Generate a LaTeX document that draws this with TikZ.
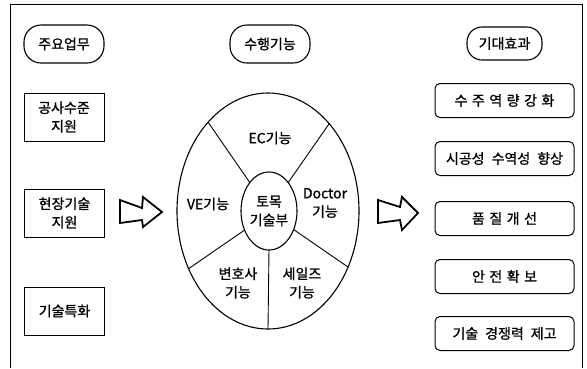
\documentclass[tikz,border=0pt]{standalone}
\usepackage{fontspec}
\setmainfont{Noto Sans CJK KR}[AutoFakeBold=1.0]
\usetikzlibrary{shapes.geometric}
\newcommand{\gp}{\hspace{4.5pt}}
\newcommand{\wgp}{\hspace{7pt}}
\begin{document}
\begin{tikzpicture}[x=1pt,y=-1pt,
  font=\fontsize{14}{18.5}\selectfont\bfseries,
  sqbox/.style={draw, line width=0.9pt, minimum width=80pt, minimum height=48pt, align=center, inner sep=0pt, outer sep=0pt},
  pill/.style={draw, line width=1.1pt, rounded corners=17pt, minimum width=80pt, minimum height=38pt, inner sep=0pt, outer sep=0pt},
  rbox/.style={draw, line width=1pt, rounded corners=5pt, minimum width=139pt, minimum height=34pt, inner sep=0pt, outer sep=0pt},
  ell/.style={draw, ellipse, line width=1.1pt, inner sep=0pt, outer sep=0pt},
  divider/.style={line width=0.9pt},
  lbl/.style={align=center, inner sep=0pt},
  fat/.style={draw, line width=1.8pt, line join=miter}]
\useasboundingbox (0,0) rectangle (587,368);
\fill[white] (0,0) rectangle (587,368);
% frame
\draw[line width=1pt] (10.5,368) -- (10.5,4.5) -- (582,4.5) -- (582,368);

% headers
\node[pill] (h1) at (64,44) {주요업무};
\node[pill] (h2) at (270,44) {수행기능};
\node[pill, minimum width=75pt, minimum height=33pt, rounded corners=15pt] (h3) at (504.5,43.5) {기대효과};

% left boxes
\node[sqbox] (l1) at (64,117) {공사수준\\지원};
\node[sqbox] (l2) at (64.5,213) {현장기술\\지원};
\node[sqbox] (l3) at (64.5,311) {기술특화};

% center ellipse
\node[ell, minimum width=182pt, minimum height=236pt] (outer) at (268,211) {};
\node[ell, minimum width=56pt, minimum height=78pt, align=center] (inner) at (269,211) {토목\\기술부};
\draw[divider] (inner.124) -- (outer.124);
\draw[divider] (inner.56) -- (outer.55);
\draw[divider] (inner.218) -- (outer.216);
\draw[divider] (inner.323) -- (outer.325);
\draw[divider] (inner.270) -- (outer.270);

\node[lbl] (ec) at (270,138) {EC기능};
\node[lbl] (ve) at (208,204) {VE기능};
\node[lbl] (dr) at (325,203) {Doctor\\기능};
\node[lbl] (lw) at (238,283) {변호사\\기능};
\node[lbl] (sl) at (302,283) {세일즈\\기능};

% hollow arrows
\draw[fat] (120,200) -- (142,208) -- (143,197) -- (162,212) -- (143,227) -- (142,220) -- (120,223) -- cycle;
\draw[fat] (378,200) -- (400,207) -- (402,197) -- (418,213) -- (402,230) -- (400,220) -- (378,223) -- cycle;

% right boxes
\node[rbox] (r1) at (504.5,100.5) {수\gp 주\gp 역\gp 량\gp 강\gp 화};
\node[rbox] (r2) at (504.5,158.5) {시공성\wgp 수역성\wgp 향상};
\node[rbox] (r3) at (504.5,218.5) {품\gp 질\gp 개\gp 선};
\node[rbox] (r4) at (504.5,276.5) {안\gp 전\gp 확\gp 보};
\node[rbox] (r5) at (504.5,333.5) {기술\wgp 경쟁력\wgp 제고};
\end{tikzpicture}
\end{document}
